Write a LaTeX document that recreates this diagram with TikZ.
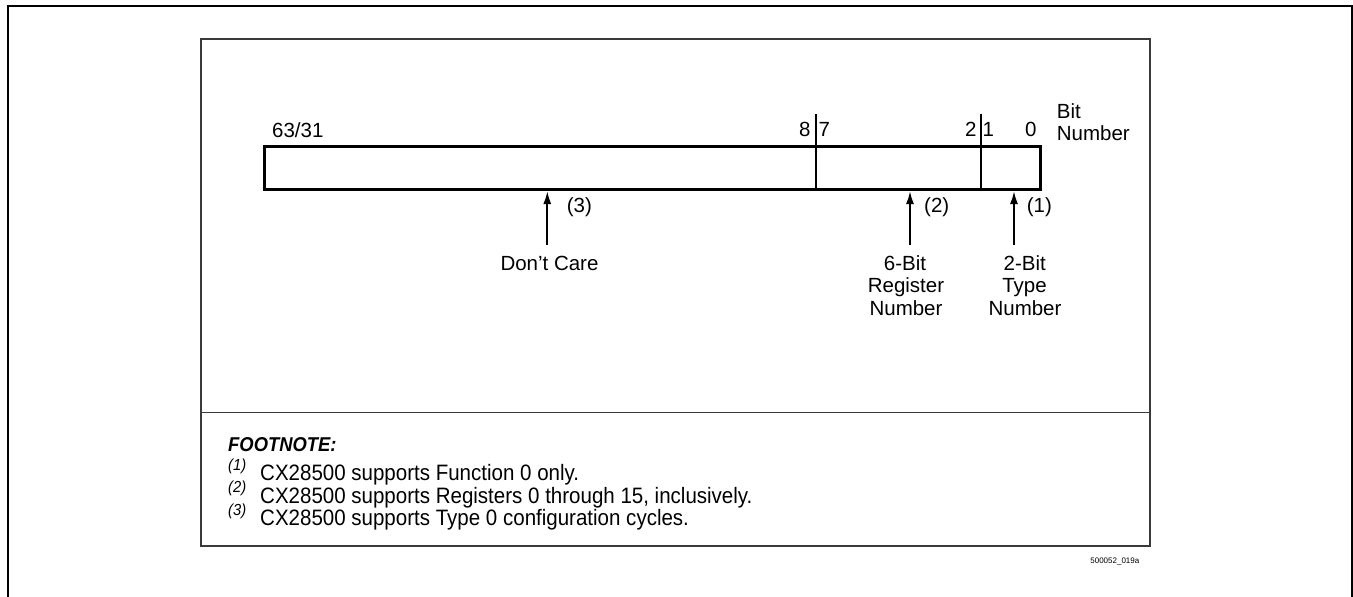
\documentclass[tikz,border=0pt]{standalone}
\usepackage{fontspec}
\setmainfont{Liberation Sans}
\newfontfamily\condfont[FakeStretch=0.92]{Liberation Sans}
\usetikzlibrary{arrows.meta}
\definecolor{framegray}{HTML}{3A3A3A}
\begin{document}
\begin{tikzpicture}[x=1pt,y=-1pt,
  lbl/.style={font=\fontsize{20.5}{22.5}\selectfont, inner sep=0pt},
  fn/.style={font=\condfont\fontsize{22.3}{22.5}\selectfont, inner sep=0pt, anchor=base west},
  fnsup/.style={font=\condfont\itshape\fontsize{16}{16}\selectfont, inner sep=0pt, anchor=base west},
  outerframe/.style={line width=2pt, black},
  innerframe/.style={line width=1.3pt, framegray},
  regbox/.style={line width=3pt, black},
  divider/.style={line width=2pt, black},
  arr/.style={line width=2pt, -{Latex[length=13pt,width=8pt]}}]
\useasboundingbox (0,0) rectangle (1353,597);
% outer frame (open at bottom)
\draw[outerframe] (8,597) -- (8,6) -- (1352,6) -- (1352,597);
% inner frame
\draw[innerframe] (201,39) rectangle (1150,546);
\draw[innerframe] (201,412.3) -- (1150,412.3);
% register
\draw[regbox] (264.7,146) rectangle (1040.7,189.5);
\draw[divider] (816,114) -- (816,189.5);
\draw[divider] (981,114) -- (981,189.5);
% bit numbers
\node[lbl, anchor=base west] (b63) at (272,137) {63/31};
\node[lbl, anchor=base east] (b8) at (810.7,136) {8};
\node[lbl, anchor=base west] (b7) at (818.3,136) {7};
\node[lbl, anchor=base east] (b2) at (976.7,136) {2};
\node[lbl, anchor=base west] (b1) at (982.5,136) {1};
\node[lbl, anchor=base west] (b0) at (1025,136) {0};
\node[lbl, anchor=base west] (bit) at (1056.7,118.3) {Bit};
\node[lbl, anchor=base west] (bitnum) at (1056.7,140.7) {Number};
% arrows
\coordinate (t3) at (547.3,191);
\coordinate (s3) at (547.3,245);
\coordinate (t2) at (910,191);
\coordinate (s2) at (910,245);
\coordinate (t1) at (1014,191);
\coordinate (s1) at (1014,245);
\draw[arr] (s3) -- (t3);
\draw[arr] (s2) -- (t2);
\draw[arr] (s1) -- (t1);
\node[lbl, anchor=base west] (n3) at (566.7,212) {(3)};
\node[lbl, anchor=base west] (n2) at (924,212) {(2)};
\node[lbl, anchor=base west] (n1) at (1026.7,212) {(1)};
\node[lbl, anchor=base] (dc) at (549.5,270) {Don’t Care};
\node[lbl, anchor=base] (r1) at (905,270) {6-Bit};
\node[lbl, anchor=base] (r2) at (906,292.5) {Register};
\node[lbl, anchor=base] (r3) at (906,315) {Number};
\node[lbl, anchor=base] (ty1) at (1024.7,270) {2-Bit};
\node[lbl, anchor=base] (ty2) at (1024.5,292.5) {Type};
\node[lbl, anchor=base] (ty3) at (1025,315) {Number};
% footnote
\node[font=\condfont\bfseries\itshape\fontsize{20}{22}\selectfont, inner sep=0pt, anchor=base west] (fnh) at (228,451.5) {FOOTNOTE:};
\node[fnsup] (s1t) at (228,470) {(1)};
\node[fn] (f1) at (260,480.5) {CX28500 supports Function 0 only.};
\node[fnsup] (s2t) at (228,492.5) {(2)};
\node[fn] (f2) at (260,503) {CX28500 supports Registers 0 through 15, inclusively.};
\node[fnsup] (s3t) at (228,515) {(3)};
\node[fn] (f3) at (260,525.5) {CX28500 supports Type 0 configuration cycles.};
\node[font=\fontsize{8}{9}\selectfont, inner sep=0pt, anchor=base east] (id) at (1139.5,563) {500052\_019a};
\end{tikzpicture}
\end{document}
